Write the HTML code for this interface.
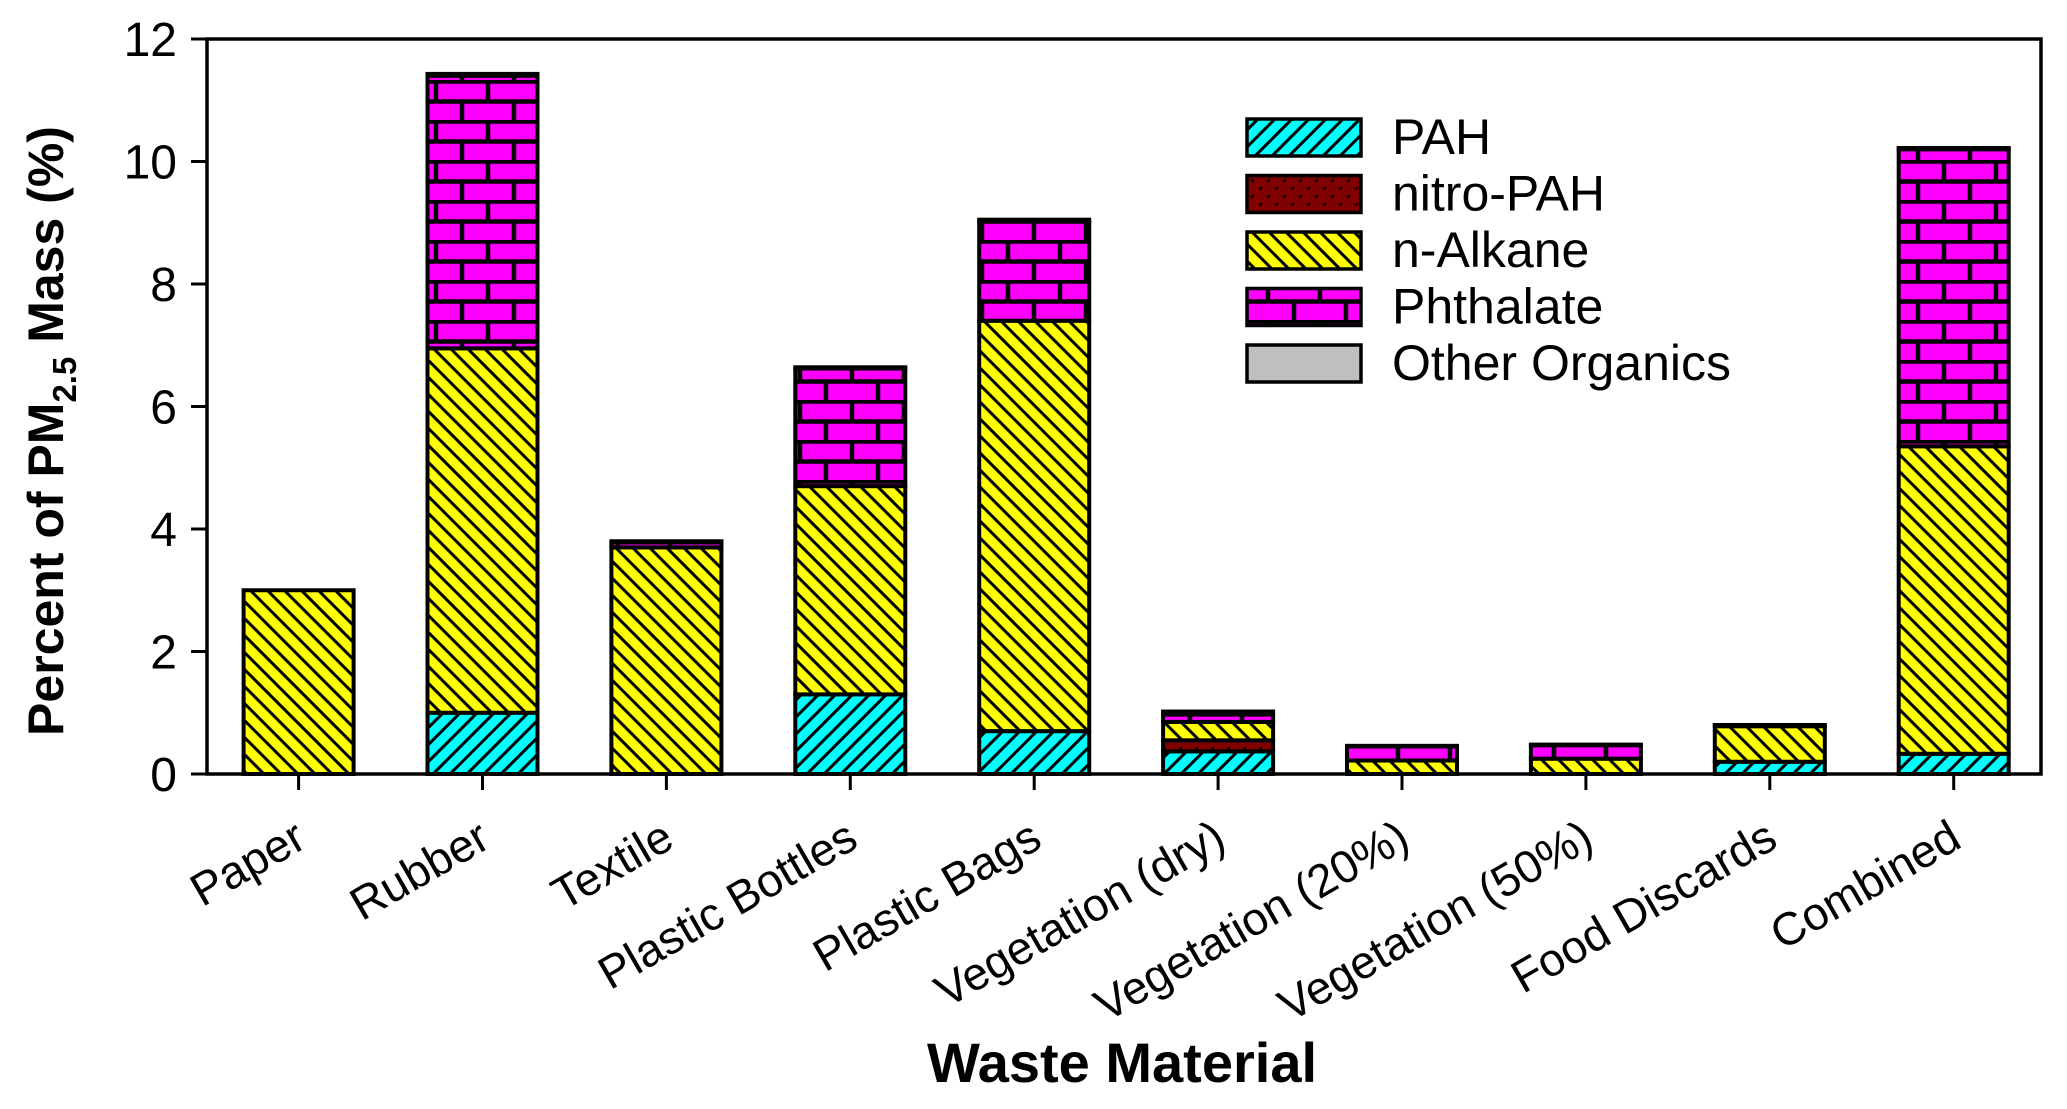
<!DOCTYPE html>
<html><head><meta charset="utf-8"><style>
html,body{margin:0;padding:0;background:#fff;}
svg{display:block;font-family:"Liberation Sans",Arial,sans-serif;}
</style></head><body>
<svg id="chart" width="2067" height="1109" viewBox="0 0 2067 1109" xmlns="http://www.w3.org/2000/svg">
<defs>
<pattern id="p-pah" patternUnits="userSpaceOnUse" width="17" height="17">
<rect width="17" height="17" fill="#00ffff"/>
<path d="M-4,4 L4,-4 M0,17 L17,0 M13,21 L21,13" stroke="#000" stroke-width="3"/>
</pattern>
<pattern id="p-nitro" patternUnits="userSpaceOnUse" width="16" height="16">
<rect width="16" height="16" fill="#800000"/>
<rect x="3" y="3" width="3" height="3" fill="#000"/>
<rect x="11" y="11" width="3" height="3" fill="#000"/>
</pattern>
<pattern id="p-alk" patternUnits="userSpaceOnUse" width="17" height="17">
<rect width="17" height="17" fill="#ffff00"/>
<path d="M-4,13 L4,21 M0,0 L17,17 M13,-4 L21,4" stroke="#000" stroke-width="3"/>
</pattern>
<pattern id="p-phth" patternUnits="userSpaceOnUse" width="104" height="40">
<rect width="104" height="40" fill="#ff00ff"/>
<path d="M0,1.5 H104 M0,21.5 H104 M20,0 V20 M72,0 V20 M46,20 V40 M98,20 V40" stroke="#000" stroke-width="4.5"/>
</pattern>
</defs>
<g id="plot"></g>
</svg>
<script>
const categories = ["Paper","Rubber","Textile","Plastic Bottles","Plastic Bags","Vegetation (dry)","Vegetation (20%)","Vegetation (50%)","Food Discards","Combined"];
const pahVals    = [0, 1.0, 0, 1.3, 0.7, 0.37, 0, 0, 0.2, 0.33];
const nitroVals  = [0, 0, 0, 0, 0, 0.18, 0, 0, 0, 0];
const alkaneVals = [3.0, 5.95, 3.7, 3.4, 6.7, 0.3, 0.22, 0.25, 0.58, 5.02];
const phthVals   = [0, 4.45, 0.08, 1.92, 1.62, 0.12, 0.23, 0.22, 0, 4.85];
const otherVals  = [0, 0.03, 0.02, 0.02, 0.03, 0.05, 0.01, 0.01, 0.02, 0.02];
const yTicks = [0, 2, 4, 6, 8, 10, 12];
const seriesNames = ["PAH","nitro-PAH","n-Alkane","Phthalate","Other Organics"];

const NS = "http://www.w3.org/2000/svg";
const L = 207, R = 2041, T = 39, B = 774, yMax = 12;
const y = v => B - v / yMax * (B - T);
const step = 183.9;
const xc = i => 298.6 + step * i;
const bw = 110;
const g = document.getElementById('plot');
function mk(tag, attrs, parent) {
  const e = document.createElementNS(NS, tag);
  for (const k in attrs) e.setAttribute(k, attrs[k]);
  (parent || g).appendChild(e);
  return e;
}
const fills = ["url(#p-pah)","url(#p-nitro)","url(#p-alk)","url(#p-phth)","#c0c0c0"];
const series = [pahVals, nitroVals, alkaneVals, phthVals, otherVals];
const segKeys = ["pah","nitro-pah","n-alkane","phthalate","other-organics"];
categories.forEach((c, i) => {
  let base = 0;
  series.forEach((s, k) => {
    const v = s[i];
    if (v <= 0) return;
    const r = mk('rect', {x: xc(i) - bw / 2, y: y(base + v), width: bw, height: y(base) - y(base + v), fill: fills[k], stroke: '#000', 'stroke-width': 4});
    
    
    base += v;
  });
  const t = mk('line', {x1: xc(i), x2: xc(i), y1: B, y2: B + 16, stroke: '#000', 'stroke-width': 3});
  
  
  const lx = xc(i) + 10, ly = B + 72;
  const lb = mk('text', {x: lx, y: ly, 'text-anchor': 'end', 'font-size': 46, transform: `rotate(-30 ${lx} ${ly})`});
  lb.textContent = c;
  
  
});
const fr = mk('rect', {x: L, y: T, width: R - L, height: B - T, fill: 'none', stroke: '#000', 'stroke-width': 3.5});


yTicks.forEach(v => {
  const t = mk('line', {x1: L - 16, x2: L, y1: y(v), y2: y(v), stroke: '#000', 'stroke-width': 3});
  
  
  const tx = mk('text', {x: L - 30, y: y(v) + 17, 'text-anchor': 'end', 'font-size': 48});
  tx.textContent = v;
  
  
});
const lx0 = 1247, ly0 = 119, lh = 56.5;
seriesNames.forEach((n, k) => {
  const r = mk('rect', {x: lx0, y: ly0 + k * lh, width: 114, height: 37, fill: fills[k], stroke: '#000', 'stroke-width': 3.5});
  
  
  const t = mk('text', {x: 1392, y: ly0 + k * lh + 35, 'font-size': 50});
  t.textContent = n;
  
  
});
const xt = mk('text', {x: 1122, y: 1082, 'text-anchor': 'middle', 'font-size': 56, 'font-weight': 'bold'});
xt.textContent = 'Waste Material';


const yt = mk('text', {x: 0, y: 0, 'text-anchor': 'middle', 'font-size': 50, 'font-weight': 'bold', transform: 'translate(63 431) rotate(-90)'});


const s1 = mk('tspan', {}, yt); s1.textContent = 'Percent of PM';
const s2 = mk('tspan', {dy: 13, 'font-size': 33}, yt); s2.textContent = '2.5';
const s3 = mk('tspan', {dy: -13}, yt); s3.textContent = ' Mass (%)';
</script>
</body></html>
